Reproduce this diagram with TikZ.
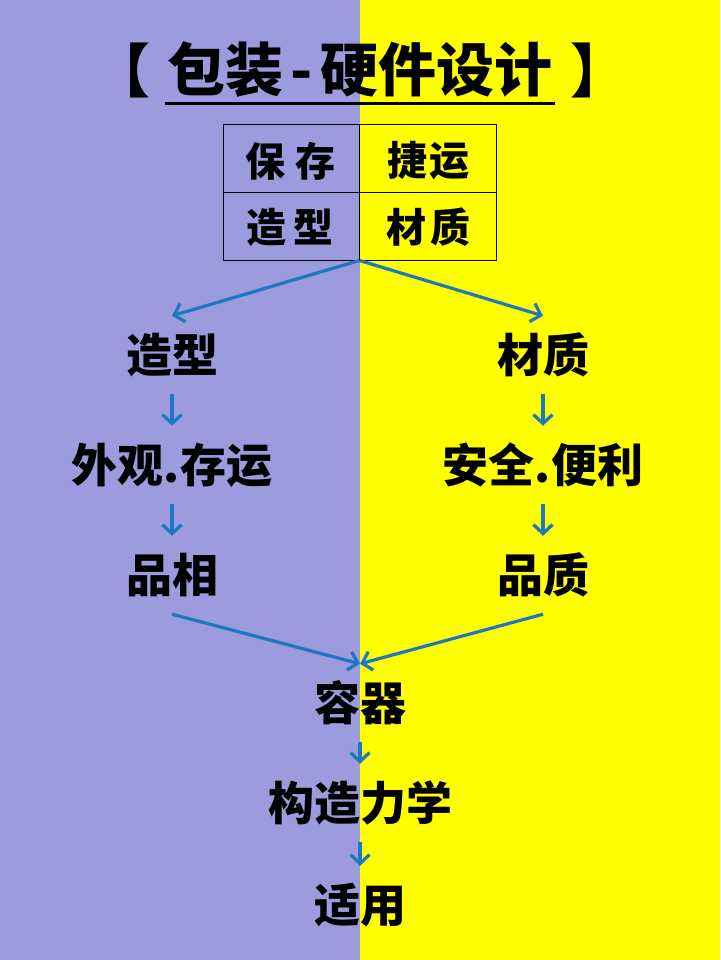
\documentclass[tikz,border=0pt]{standalone}
\usepackage{fontspec}
\newfontfamily\cjk{Noto Sans CJK SC}
\usetikzlibrary{arrows.meta}
\definecolor{purpbg}{RGB}{155,155,222}
\definecolor{yelbg}{RGB}{255,255,0}
\definecolor{arrowblue}{RGB}{30,120,192}
\begin{document}
\begin{tikzpicture}[x=1pt,y=-1pt,
  lbl/.style={font=\cjk\bfseries\fontsize{46}{50}\selectfont, inner sep=0pt, minimum height=78pt},
  cell/.style={font=\cjk\bfseries\fontsize{40}{44}\selectfont, inner sep=0pt},
  ttl/.style={font=\cjk\bfseries\fontsize{58}{60}\selectfont, inner sep=0pt},
  arr/.style={draw=arrowblue, line width=3.2pt, -{Straight Barb[length=9pt,width=19pt]}}]
\useasboundingbox (0,0) rectangle (720,960);
\fill[purpbg] (0,0) rectangle (360,960);
\fill[yelbg] (360,0) rectangle (720,960);
% title
\node[ttl] (title) at (360,70) {包装\kern0.12em-\kern0.12em硬件设计};
\node[ttl, anchor=west] (lbr) at (92,70) {【};
\node[ttl, anchor=west] (rbr) at (570,70) {】};
\draw[line width=3pt] (165,104) -- (555,104);
% table
\node[draw, line width=1pt, minimum width=273pt, minimum height=135pt, inner sep=0pt] (tab) at (359.5,192.5) {};
\draw[line width=1pt] (tab.north) -- (tab.south);
\draw[line width=1pt] (tab.west) -- (tab.east);
\node[cell] (c11) at (290,161) {保\hspace{0.25em}存};
\node[cell] (c12) at (428,161) {捷\hspace{0.05em}运};
\node[cell] (c21) at (290,227) {造\hspace{0.2em}型};
\node[cell] (c22) at (428,227) {材\hspace{0.1em}质};
% labels
\node[lbl] (zx) at (172,355) {造型};
\node[lbl] (cz) at (543,355) {材质};
\node[lbl] (wg) at (172,465) {外观.存运};
\node[lbl] (aq) at (543,465) {安全.便利};
\node[lbl] (px) at (172,575) {品相};
\node[lbl] (pz) at (543,575) {品质};
\node[lbl] (rq) at (360,703) {容器};
\node[lbl] (gz) at (360,803) {构造力学};
\node[lbl] (sy) at (360,905) {适用};
% arrows
\draw[arr] (tab.south) -- (zx.north);
\draw[arr] (tab.south) -- (cz.north);
\draw[arr] (zx) -- (wg);
\draw[arr] (wg) -- (px);
\draw[arr] (cz) -- (aq);
\draw[arr] (aq) -- (pz);
\draw[arr] (px.south) -- (rq.north);
\draw[arr] (pz.south) -- (rq.north);
\draw[arr] (rq) -- (gz);
\draw[arr] (gz) -- (sy);
\end{tikzpicture}
\end{document}
